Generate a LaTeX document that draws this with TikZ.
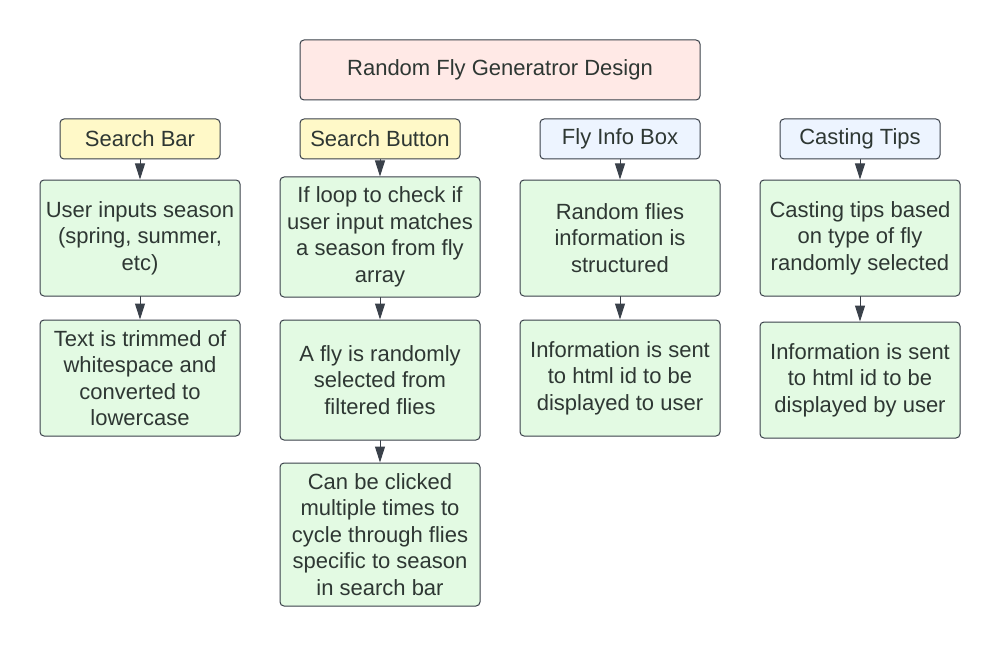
\documentclass[tikz,border=0pt]{standalone}
\usepackage{fontspec}
\setmainfont{Liberation Sans}
\usetikzlibrary{arrows.meta}
\definecolor{txt}{HTML}{2E3733}
\definecolor{edge}{HTML}{3A414A}
\definecolor{pinkfill}{HTML}{FFE9E6}
\definecolor{yellowfill}{HTML}{FFF9C8}
\definecolor{bluefill}{HTML}{EDF4FF}
\definecolor{greenfill}{HTML}{E3FAE3}
\begin{document}
\begin{tikzpicture}[x=1pt, y=-1pt, line join=round, line cap=round,
	font=\fontsize{22}{26.5}\selectfont, text=txt,
	box/.style={draw=edge, line width=1pt, rounded corners=4pt, align=center, inner sep=0pt},
	titlebox/.style={box, fill=pinkfill, minimum width=400pt, minimum height=60pt},
	headY/.style={box, fill=yellowfill, minimum width=160pt, minimum height=40pt},
	headB/.style={box, fill=bluefill, minimum width=160pt, minimum height=40pt},
	stepbox/.style={box, fill=greenfill, minimum width=200pt, minimum height=116pt},
	link/.style={draw=edge, line width=1pt, -{Triangle[width=10pt,length=16pt]}}]
	\useasboundingbox[fill=white] (0,0) rectangle (1000,647);
	\node[titlebox] (title) at (500,70) {Random Fly Generatror Design};
	% headers
	\node[headY] (sbar) at (140,139) {Search Bar};
	\node[headY] (sbtn) at (380,139) {Search Button};
	\node[headB] (finfo) at (620,139) {Fly Info Box};
	\node[headB] (ctips) at (860,139) {Casting Tips};
	% search bar column
	\node[stepbox] (a1) at (140,238) {User inputs season\\(spring, summer,\\etc)};
	\node[stepbox] (a2) at (140,378) {Text is trimmed of\\whitespace and\\converted to\\lowercase};
	% search button column
	\node[stepbox, minimum height=120pt] (b1) at (380,237) {If loop to check if\\user input matches\\a season from fly\\array};
	\node[stepbox, minimum height=120pt] (b2) at (380,380) {A fly is randomly\\selected from\\filtered flies};
	\node[stepbox, minimum height=143pt] (b3) at (380,534.5) {Can be clicked\\multiple times to\\cycle through flies\\specific to season\\in search bar};
	% fly info column
	\node[stepbox] (c1) at (620,238) {Random flies\\information is\\structured};
	\node[stepbox] (c2) at (620,378) {Information is sent\\to html id to be\\displayed to user};
	% casting tips column
	\node[stepbox] (d1) at (860,238) {Casting tips based\\on type of fly\\randomly selected};
	\node[stepbox] (d2) at (860,380) {Information is sent\\to html id to be\\displayed by user};
	\foreach \u/\v in {sbar/a1, a1/a2, sbtn/b1, b1/b2, b2/b3, finfo/c1, c1/c2, ctips/d1, d1/d2}
		\draw[link] (\u.south) -- (\v.north);
\end{tikzpicture}
\end{document}
